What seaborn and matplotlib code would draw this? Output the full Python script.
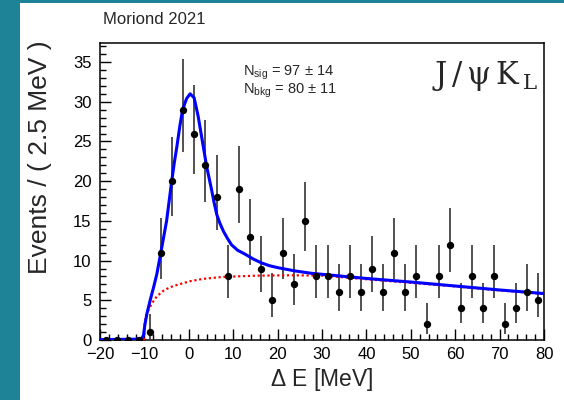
import math
import numpy as np
import matplotlib
matplotlib.use("Agg")
import matplotlib.pyplot as plt
from matplotlib.patches import Rectangle
from matplotlib.ticker import MultipleLocator
import seaborn as sns

# --- Data ---
bin_lo, bin_hi, bin_width = -20.0, 80.0, 2.5
counts = [0, 0, 0, 0, 1, 11, 20, 29, 26, 22,
          18, 8, 19, 13, 9, 5, 11, 7, 15, 8,
          8, 6, 8, 6, 9, 6, 11, 6, 8, 2,
          8, 12, 4, 8, 4, 8, 2, 4, 6, 5]

# total fit (blue)
fit_x = [-20, -12, -10.6, -10.2, -9.9, -9.4, -8.7, -7.9, -7.2, -6.3,
         -5.0, -3.9, -3.3, -2.7, -2.0, -1.4, -0.5, 0.3, 1.2, 2.1,
         3.1, 4.0, 5.1, 5.7, 6.3, 7.0, 7.8, 8.7, 9.6, 11.0,
         12.7, 14.5, 16.4, 18.2, 20.1, 23.9, 27.6, 31.4, 40, 50,
         60, 70, 80]
fit_y = [0.05, 0.1, 0.2, 0.6, 1.9, 3.4, 5.0, 6.7, 8.3, 11.0,
         15.0, 19.8, 22.2, 24.3, 27.0, 29.0, 30.4, 31.0, 30.5, 28.2,
         24.9, 21.9, 19.0, 17.3, 15.8, 14.7, 13.7, 12.8, 12.0, 11.3,
         10.8, 10.2, 9.7, 9.35, 9.1, 8.7, 8.4, 8.2, 7.75, 7.3,
         6.8, 6.3, 5.85]

# background component (red dotted)
bkg_x = [-20, -10.1, -9.9, -9.5, -9.0, -8.2, -7.2, -5.5, -3.5, 0.3,
         3.2, 7.8, 15.3, 22.8, 30.3, 40, 50, 60, 70, 80]
bkg_y = [0.0, 0.0, 2.3, 3.2, 3.9, 4.7, 5.5, 6.3, 6.8, 7.4,
         7.7, 7.95, 8.1, 8.15, 8.1, 7.65, 7.2, 6.75, 6.25, 5.8]

n_sig_text = r"$\mathregular{N_{sig}}$ = 97 $\pm$ 14"
n_bkg_text = r"$\mathregular{N_{bkg}}$ = 80 $\pm$ 11"


# --- Poisson (Garwood) errors, like RooFit data points ---
def pois_cdf(n, mu):
    return sum(math.exp(-mu + k * math.log(mu) - math.lgamma(k + 1)) for k in range(n + 1))


def solve(f, lo, hi):
    for _ in range(80):
        mid = 0.5 * (lo + hi)
        if f(mid) > 0:
            lo = mid
        else:
            hi = mid
    return 0.5 * (lo + hi)


alpha = (1 - 0.682689) / 2
err_lo, err_hi = [], []
for n in counts:
    if n == 0:
        err_lo.append(0.0)
        err_hi.append(0.0)
        continue
    up = solve(lambda mu: pois_cdf(n, mu) - alpha, n, n + 10 * math.sqrt(n) + 10)
    lo = solve(lambda mu: alpha - (1 - pois_cdf(n - 1, mu)), 1e-9, n)
    err_lo.append(n - lo)
    err_hi.append(up - n)

centers = np.arange(bin_lo, bin_hi, bin_width) + bin_width / 2
counts = np.array(counts)
has_err = counts > 0

# --- Style ---
sns.set_theme(style="ticks")
plt.rcParams["font.family"] = ["Liberation Sans", "DejaVu Sans"]
plt.rcParams["mathtext.fontset"] = "custom"
plt.rcParams["mathtext.rm"] = "DejaVu Serif"
plt.rcParams["mathtext.default"] = "regular"

fig = plt.figure(figsize=(5.64, 4.0), dpi=100)
fig.patch.set_facecolor("#1e8396")
fig.patches.append(Rectangle((20 / 564, 0), 1, 1 - 3 / 400, transform=fig.transFigure,
                             facecolor="white", edgecolor="none", zorder=-10))
ax = fig.add_axes([100 / 564, 60 / 400, 444 / 564, 297 / 400])
ax.set_zorder(1)
ax.set_facecolor("white")

# --- Plot ---
ax.errorbar(centers[has_err], counts[has_err],
            yerr=[np.array(err_lo)[has_err], np.array(err_hi)[has_err]],
            fmt="none", ecolor="#222222", elinewidth=1.1, capsize=0, zorder=2)
sns.lineplot(x=bkg_x, y=bkg_y, ax=ax, color="#ff0000", lw=1.6,
             linestyle=(0, (1, 1.2)), estimator=None, sort=False, zorder=3)
sns.lineplot(x=fit_x, y=fit_y, ax=ax, color="#0000ff", lw=2.2,
             estimator=None, sort=False, zorder=4)
sns.scatterplot(x=centers, y=counts, ax=ax, color="black", s=28,
                edgecolor="black", linewidth=0, zorder=5)

ax.set_xlim(bin_lo, bin_hi)
ax.set_ylim(0, 37.4)
ax.xaxis.set_major_locator(MultipleLocator(10))
ax.xaxis.set_minor_locator(MultipleLocator(2))
ax.yaxis.set_major_locator(MultipleLocator(5))
ax.yaxis.set_minor_locator(MultipleLocator(1))
ax.tick_params(which="both", direction="in", top=False, right=False,
               colors="black", labelsize=12, width=1.0)
ax.tick_params(which="major", length=8)
ax.tick_params(which="minor", length=4)
ax.tick_params(axis="x", pad=5)
ax.tick_params(axis="y", pad=6)
for s in ax.spines.values():
    s.set_visible(True)
    s.set_linewidth(1.1)
    s.set_color("black")

ax.set_xlabel(r"$\Delta$ E [MeV]", fontsize=16.5, labelpad=3)
ax.set_ylabel("Events / ( 2.5 MeV )", fontsize=19, loc="top")
ax.yaxis.set_label_coords(-0.107, 1.01)

fig.text(103 / 564, 1 - 19 / 400, "Moriond 2021", fontsize=12, va="center", ha="left")
fig.text(243 / 564, 1 - 76 / 400, n_sig_text, fontsize=10.5, va="baseline", ha="left")
fig.text(243 / 564, 1 - 94 / 400, n_bkg_text, fontsize=10.5, va="baseline", ha="left")
fig.text(538 / 564, 1 - 84 / 400, r"$\mathrm{J\,/\,\psi\,K_{\,L}}$", fontsize=22,
         va="baseline", ha="right")

fig.savefig("out.png", dpi=100, facecolor=fig.get_facecolor())
